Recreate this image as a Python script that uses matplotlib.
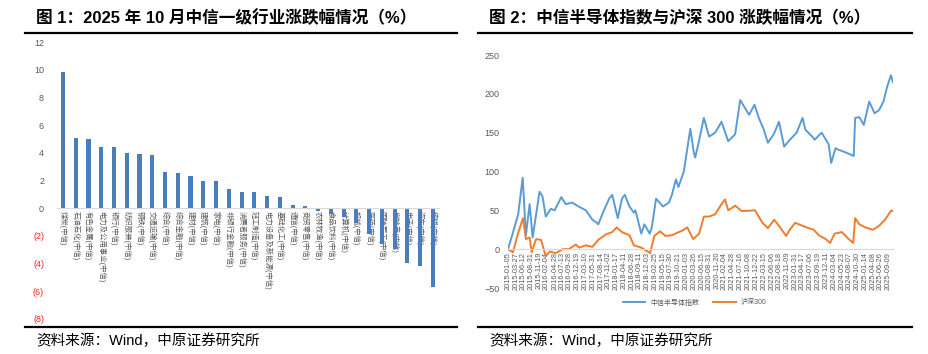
import matplotlib.pyplot as plt
import pandas as pd
from matplotlib.lines import Line2D

plt.rcParams['font.family'] = ['Liberation Sans', 'Noto Sans CJK SC', 'DejaVu Sans']

# figure 1: Oct 2025 CITIC level-1 industry returns (%)
industries = ['煤炭', '石油石化', '有色金属', '电力及公用事业', '银行', '纺织服装', '钢铁', '交通运输',
              '综合', '综合金融', '建材', '建筑', '家电', '非银行金融', '消费者服务', '轻工制造',
              '电力设备及新能源', '基础化工', '通信', '商贸零售', '农林牧渔', '食品饮料', '计算机',
              '机械', '医药', '国防军工', '房地产', '电子', '汽车', '传媒']
changes = [9.88, 5.05, 5.0, 4.44, 4.40, 4.01, 3.91, 3.84, 2.63, 2.58, 2.32, 2.0, 1.96, 1.38, 1.16,
           1.15, 0.92, 0.78, 0.27, 0.14, -0.19, -0.43, -0.63, -1.06, -1.84, -2.61, -2.92, -3.96,
           -4.2, -5.7]

# figure 2: semiconductor index vs CSI 300 cumulative change (%)
tick_dates = ['2015-01-05', '2015-03-27', '2015-06-12', '2015-08-31', '2015-11-19', '2016-02-04',
              '2016-04-28', '2016-07-13', '2016-09-28', '2016-12-19', '2017-03-10', '2017-05-31',
              '2017-08-14', '2017-11-02', '2018-01-17', '2018-04-11', '2018-06-28', '2018-09-11',
              '2018-12-03', '2019-02-25', '2019-05-15', '2019-07-30', '2019-10-21', '2020-01-03',
              '2020-03-26', '2020-06-15', '2020-08-31', '2020-11-20', '2021-02-04', '2021-04-28',
              '2021-07-16', '2021-10-08', '2021-12-22', '2022-03-15', '2022-06-06', '2022-08-18',
              '2022-11-09', '2023-01-31', '2023-04-17', '2023-07-06', '2023-09-19', '2023-12-11',
              '2024-03-04', '2024-05-23', '2024-08-07', '2024-10-30', '2025-01-14', '2025-04-08',
              '2025-06-26', '2025-09-09']

semi_dates = ['2015-01-05', '2015-02-10', '2015-04-20', '2015-06-05', '2015-07-08', '2015-08-15',
              '2015-09-15', '2015-11-25', '2015-12-25', '2016-01-28', '2016-03-20', '2016-04-28',
              '2016-07-05', '2016-08-20', '2016-10-25', '2016-12-30', '2017-03-15', '2017-05-20',
              '2017-07-05', '2017-07-20', '2017-08-30', '2017-11-08', '2017-12-10', '2018-02-05',
              '2018-03-20', '2018-04-18', '2018-06-05', '2018-07-20', '2018-08-05', '2018-10-05',
              '2018-11-05', '2018-12-30', '2019-01-20', '2019-03-05', '2019-05-15', '2019-07-15',
              '2019-08-15', '2019-09-25', '2019-10-21', '2019-12-15', '2020-02-20', '2020-03-26',
              '2020-04-10', '2020-05-15', '2020-07-08', '2020-08-31', '2020-11-01', '2021-01-05',
              '2021-03-15', '2021-05-25', '2021-07-16', '2021-10-15', '2021-12-10', '2022-01-20',
              '2022-03-15', '2022-04-26', '2022-06-25', '2022-08-18', '2022-10-10', '2022-12-01',
              '2023-02-15', '2023-04-17', '2023-05-15', '2023-07-25', '2023-08-20', '2023-10-30',
              '2024-01-10', '2024-02-05', '2024-03-20', '2024-04-20', '2024-06-25', '2024-09-23',
              '2024-10-08', '2024-11-20', '2025-01-05', '2025-03-01', '2025-04-25', '2025-06-10',
              '2025-07-25', '2025-09-01', '2025-10-10', '2025-10-31']
semi_values = [0, 15, 45, 92, 18, 58, 15, 74, 68, 42, 52, 50, 67, 58, 60, 55, 50, 38, 34, 32,
               45, 65, 70, 40, 65, 70, 55, 47, 50, 20, 32, 20, 28, 65, 55, 60, 70, 90, 80, 100,
               155, 125, 118, 137, 169, 145, 150, 164, 139, 148, 192, 173, 186, 170, 154, 137, 148, 164, 132, 140,
               150, 169, 154, 145, 141, 150, 135, 111, 130, 128, 125, 120, 169, 170, 160, 190, 175, 179, 190, 209,
               224, 215]

hs300_dates = ['2015-01-05', '2015-02-25', '2015-04-20', '2015-06-08', '2015-07-08', '2015-08-15',
               '2015-09-05', '2015-10-20', '2015-12-10', '2016-01-28', '2016-03-10', '2016-05-10',
               '2016-07-20', '2016-09-20', '2016-12-01', '2017-01-05', '2017-03-15', '2017-05-20',
               '2017-07-20', '2017-10-05', '2017-12-10', '2018-01-25', '2018-03-20', '2018-06-05',
               '2018-07-20', '2018-10-05', '2019-01-03', '2019-02-15', '2019-04-15', '2019-06-10',
               '2019-08-15', '2019-11-30', '2020-01-20', '2020-03-20', '2020-05-20', '2020-07-08',
               '2020-08-31', '2020-11-01', '2021-01-05', '2021-02-10', '2021-03-15', '2021-05-25',
               '2021-08-01', '2021-12-15', '2022-03-01', '2022-04-26', '2022-06-30', '2022-08-18',
               '2022-10-31', '2022-12-01', '2023-01-31', '2023-04-17', '2023-06-20', '2023-08-10',
               '2023-09-30', '2023-12-11', '2024-01-25', '2024-03-10', '2024-05-25', '2024-07-25',
               '2024-09-18', '2024-10-08', '2024-11-20', '2025-01-20', '2025-04-08', '2025-06-10',
               '2025-08-10', '2025-10-15', '2025-10-31']
hs300_values = [0, -4, 21, 40, 13, 15, -4, 13, 12, -9, -3, -5, 0, 0, 6, 2, 5, 3, 12, 19, 22, 28,
                22, 18, 5, 2, -5, 17, 23, 17, 18, 24, 28, 13, 20, 42, 42, 45, 58, 64, 50, 56, 49,
                50, 34, 27, 38, 30, 17, 24, 34, 30, 27, 25, 18, 13, 8, 20, 22, 14, 8, 40, 32, 28,
                25, 30, 38, 50, 49]

fig = plt.figure(figsize=(9.29, 3.54), dpi=100)

# left: bar chart
ax1 = fig.add_axes([0.0609, 0.0989, 0.412, 0.782])
for s in ['top', 'right', 'left']:
    ax1.spines[s].set_visible(False)
ax1.spines['bottom'].set_position(('data', 0))
ax1.spines['bottom'].set_color('#d9d9d9')
pos = list(range(len(industries)))
ax1.bar(pos, changes, width=0.32, color='#4a7ebb')
ax1.set_axisbelow(True)
ax1.set_xlim(-0.5, len(industries) - 0.5)
ax1.set_ylim(-8, 12)
yt = list(range(-8, 13, 2))
ax1.tick_params(axis='both', length=0)
ax1.tick_params(axis='y', pad=9, labelsize=6.5)
ax1.tick_params(axis='x', pad=2, labelrotation=270, labelsize=5.3, labelcolor='#595959')
ax1.set_yticks(yt)
ax1.set_yticklabels([str(v) if v >= 0 else '(%d)' % -v for v in yt])
for lab, v in zip(ax1.get_yticklabels(), yt):
    lab.set_color('#ff2020' if v < 0 else '#595959')
ax1.set_xticks(pos)
ax1.set_xticklabels([n + '(中信)' for n in industries])

# right: line chart
ax2 = fig.add_axes([0.5468, 0.1864, 0.4144, 0.6582])
for s in ['top', 'right', 'left']:
    ax2.spines[s].set_visible(False)
ax2.spines['bottom'].set_position(('data', 0))
ax2.spines['bottom'].set_color('#d9d9d9')
ax2.plot(pd.to_datetime(semi_dates), semi_values, color='#5b9bd5', lw=1.4, label='中信半导体指数')
ax2.plot(pd.to_datetime(hs300_dates), hs300_values, color='#ed7d31', lw=1.4, label='沪深300')
ax2.set_xlim(pd.Timestamp(semi_dates[0]), pd.Timestamp(semi_dates[-1]))
ax2.set_ylim(-50, 250)
ax2.tick_params(axis='both', length=0, colors='#595959')
ax2.tick_params(axis='y', labelsize=6.5, pad=6)
ax2.tick_params(axis='x', pad=2, labelrotation=90, labelsize=5.3)
ax2.set_yticks(range(-50, 251, 50))
ax2.set_xticks(pd.to_datetime(tick_dates))
ax2.set_xticklabels(tick_dates)
leg = fig.legend(loc='center', bbox_to_anchor=(0.748, 0.144), ncol=2, frameon=False,
                 fontsize=5, handlelength=3.2, columnspacing=2.0)
for t in leg.get_texts():
    t.set_color('#595959')

# titles, rules and source notes
W, H = 929, 354
titles = ['图 1：2025 年 10 月中信一级行业涨跌幅情况（%）', '图 2：中信半导体指数与沪深 300 涨跌幅情况（%）']
for x0, x1, title in [(25, 457, titles[0]), (478, 912, titles[1])]:
    fig.text((x0 + 11) / W, 1 - 18 / H, title, fontsize=12, fontweight='bold', va='center')
    fig.add_artist(Line2D([x0 / W, x1 / W], [1 - 33 / H] * 2, color='black', lw=1.6))
    fig.add_artist(Line2D([x0 / W, x1 / W], [1 - 327 / H] * 2, color='black', lw=1.6))
    fig.text((x0 + 11) / W, 1 - 341 / H, '资料来源：Wind，中原证券研究所', fontsize=10.5, va='center')

fig.savefig('out.png', dpi=100)
